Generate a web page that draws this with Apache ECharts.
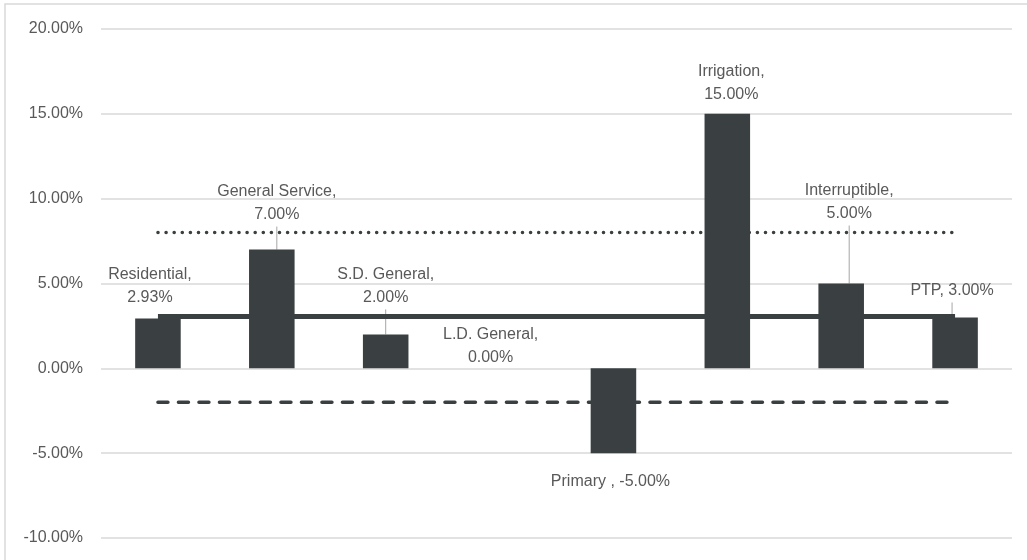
<!DOCTYPE html>
<html>
<head>
<meta charset="utf-8">
<script src="https://cdn.jsdelivr.net/npm/echarts@6/dist/echarts.min.js"></script>
<style>
  html, body { margin: 0; padding: 0; background: #ffffff; }
  #chart { width: 1027px; height: 560px; }
</style>
</head>
<body>
<div id="chart"></div>
<script>
// Rate classes and their percentage changes
const categories = ['Residential', 'General Service', 'S.D. General', 'L.D. General', 'Primary', 'Irrigation', 'Interruptible', 'PTP'];
const changes = [2.93, 7.00, 2.00, 0.00, -5.00, 15.00, 5.00, 3.00];

// Reference bands drawn across all classes
const averageLevel = [3.05, 3.05, 3.05, 3.05, 3.05, 3.05, 3.05, 3.05];
const upperLevel = [8, 8, 8, 8, 8, 8, 8, 8];
const lowerLevel = [-2, -2, -2, -2, -2, -2, -2, -2];

// Value axis range
const yMin = -10, yMax = 20, yStep = 5;

// Label nudges per class: [dx, dy, show leader line, single line]
const labelNudge = [
  [-8, -5, false, false],
  [5, -18, true, false],
  [0, -20, true, false],
  [-9, 6, false, false],
  [-3, 12, false, true],
  [4, -3, false, false],
  [8, -53, true, false],
  [-3, -10, true, true]
];

const FONT = '"Liberation Sans", Arial, sans-serif';
const FONT_SIZE = 16;
const INK = '#3a4042';
const TEXT = '#595959';

const chart = echarts.init(document.getElementById('chart'), null, { renderer: 'canvas' });

const barData = changes.map((v, i) => {
  const single = labelNudge[i][3];
  return {
    value: v,
    label: {
      position: v < 0 ? 'bottom' : 'top',
      formatter: (p) => single
        ? categories[p.dataIndex] + (categories[p.dataIndex] === 'Primary' ? ' , ' : ', ') + p.value.toFixed(2) + '%'
        : categories[p.dataIndex] + ',\n' + p.value.toFixed(2) + '%'
    },
    labelLine: { show: labelNudge[i][2] }
  };
});

const lineBase = {
  type: 'line',
  symbol: 'none',
  silent: true,
  z: 3,
  animation: false
};

chart.setOption({
  animation: false,
  graphic: [{
    type: 'rect',
    shape: { x: 5, y: 4, width: 1040, height: 580 },
    style: { fill: null, stroke: '#d9d9d9', lineWidth: 1.5 },
    silent: true
  }],
  grid: { left: 101, right: 15, top: 29, bottom: 22, containLabel: false },
  xAxis: {
    type: 'category',
    data: categories,
    boundaryGap: true,
    axisLine: { show: false },
    axisTick: { show: false },
    axisLabel: { show: false },
    splitLine: { show: false }
  },
  yAxis: {
    type: 'value',
    min: yMin,
    max: yMax,
    interval: yStep,
    axisLine: { show: false },
    axisTick: { show: false },
    axisLabel: {
      formatter: (v) => v.toFixed(2) + '%',
      color: TEXT,
      fontFamily: FONT,
      fontSize: FONT_SIZE,
      margin: 18
    },
    splitLine: { lineStyle: { color: '#d9d9d9', width: 1.5 } }
  },
  series: [
    {
      type: 'bar',
      data: barData,
      barWidth: '40%',
      itemStyle: { color: INK },
      z: 2,
      label: {
        show: true,
        color: TEXT,
        fontFamily: FONT,
        fontSize: FONT_SIZE,
        lineHeight: 23,
        distance: 5,
        align: 'center'
      },
      labelLine: {
        lineStyle: { color: '#a6a6a6', width: 1 }
      },
      labelLayout: (params) => {
        const n = labelNudge[params.dataIndex];
        return { dx: n[0], dy: n[1] };
      }
    },
    Object.assign({}, lineBase, {
      data: averageLevel,
      lineStyle: { color: INK, width: 5, type: 'solid', cap: 'butt' }
    }),
    Object.assign({}, lineBase, {
      data: upperLevel,
      lineStyle: { color: INK, width: 3.5, type: [0.1, 8], cap: 'round' }
    }),
    Object.assign({}, lineBase, {
      data: lowerLevel,
      lineStyle: { color: INK, width: 3.5, type: [10, 10.5], cap: 'round' }
    })
  ]
});
</script>
</body>
</html>
